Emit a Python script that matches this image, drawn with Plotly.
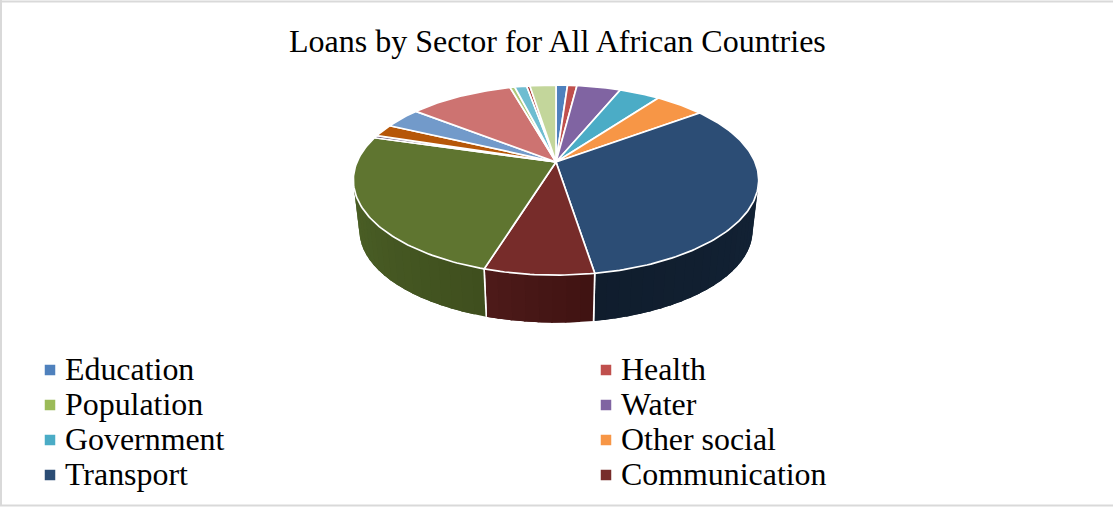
import math
import plotly.graph_objects as go

TITLE = "Loans by Sector for All African Countries"

# Share of total lending per sector, in percent, in drawing order clockwise from 12 o'clock.
sectors = ["Education", "Health", "Population", "Water", "Government", "Other social",
           "Transport", "Communication", "Sector 9", "Sector 10", "Sector 11", "Sector 12",
           "Sector 13", "Sector 14", "Sector 15", "Sector 16", "Sector 17"]
shares = [1.1, 0.9, 0.0, 4.2, 3.9, 4.75, 32.6, 7.3, 24.7, 0.45, 2.1, 3.55, 10.0, 0.45, 1.15, 0.3, 2.5]
colors = ["#4F81BD", "#C0504D", "#9BBB59", "#8064A2", "#4BACC6", "#F79646",
          "#2C4D75", "#772C2A", "#5F7530", "#4D3B62", "#B65708", "#729ACA",
          "#CD7371", "#AFC97A", "#6FBDD1", "#A5302C", "#C3D69B"]

# Sectors named in the key, read row by row across two columns.
legend_sectors = sectors[:8]

# Side-wall shading per sector: (colour at the clockwise start, colour at the clockwise end).
wall_colors = {
    "Transport": ("#14263B", "#101D2D"),
    "Communication": ("#3F1311", "#4E1A1A"),
    "Sector 9": ("#3F4F1E", "#51682A"),
}

# Disc geometry on a pixel-scaled plotting plane, with perspective tilt.
CX, CY = 556.0, 162.0
RX, RY = 199.0, 91.6
TILT = 0.19
DROP = 51.0
BASE_SCALE = 0.97


def project(theta_deg, scale=1.0, drop=0.0):
    t = math.radians(theta_deg)
    persp = 1.0 + TILT * math.cos(t)
    return (CX + scale * RX * math.sin(t) / persp,
            CY + drop - scale * RY * math.cos(t) / persp)


def arc_angles(a, b, step=1.0):
    n = max(2, int(abs(b - a) / step) + 1)
    return [a + (b - a) * i / (n - 1) for i in range(n)]


def mix(c1, c2, f):
    p = [int(c1[i:i + 2], 16) for i in (1, 3, 5)]
    q = [int(c2[i:i + 2], 16) for i in (1, 3, 5)]
    return "rgb(%d,%d,%d)" % tuple(round(x + (y - x) * f) for x, y in zip(p, q))


total = sum(shares)
edges = [0.0]
for s in shares:
    edges.append(edges[-1] + 360.0 * s / total)

# The wall is only seen between the two silhouette angles of the tilted disc.
wall_from = math.degrees(math.acos(-TILT))
wall_to = 360.0 - wall_from

fig = go.Figure()

# Side walls: each band runs on under the next one, which hides the joins
# while the shading still varies along the arc.
for name, a, b in zip(sectors, edges[:-1], edges[1:]):
    if name not in wall_colors:
        continue
    lo, hi = max(a, wall_from), min(b, wall_to)
    if hi <= lo:
        continue
    start, end = wall_colors[name]
    steps = arc_angles(lo, hi, 3.0)
    for p in steps[:-1]:
        band = arc_angles(p, min(p + 7.0, hi), 1.0)
        upper = [project(t) for t in band]
        lower = [project(t, BASE_SCALE, DROP) for t in reversed(band)]
        pts = upper + lower + upper[:1]
        shade = mix(start, end, (p + 1.5 - a) / (b - a))
        fig.add_trace(go.Scatter(
            x=[pt[0] for pt in pts], y=[pt[1] for pt in pts], mode="lines",
            fill="toself", fillcolor=shade, line=dict(width=0),
            hoverinfo="skip", showlegend=False))
    # White seam down the front edge of each wall.
    for t in (a, b):
        if wall_from < t < wall_to:
            seam = [project(t), project(t, BASE_SCALE, DROP)]
            fig.add_trace(go.Scatter(
                x=[pt[0] for pt in seam], y=[pt[1] for pt in seam], mode="lines",
                line=dict(color="white", width=1.6), hoverinfo="skip", showlegend=False))

# Top face of the disc: one wedge per sector.
for name, share, color, a, b in zip(sectors, shares, colors, edges[:-1], edges[1:]):
    if share <= 0:
        continue
    rim = [project(t) for t in arc_angles(a, b)]
    pts = [(CX, CY)] + rim + [(CX, CY)]
    fig.add_trace(go.Scatter(
        x=[pt[0] for pt in pts], y=[pt[1] for pt in pts], mode="lines",
        fill="toself", fillcolor=color, line=dict(color="white", width=1.7),
        name=name, text=f"{name}: {share}%", hoverinfo="text", hoveron="fills",
        showlegend=False))

# Two-column key: swatches as markers, labels as annotations.
annotations = []
for i, name in enumerate(legend_sectors):
    col, row = i % 2, i // 2
    x0 = 50 if col == 0 else 606
    y0 = 370 + 35 * row
    fig.add_trace(go.Scatter(
        x=[x0], y=[y0], mode="markers",
        marker=dict(symbol="square", size=10.5, color=colors[sectors.index(name)], line=dict(width=0)),
        name=name, hoverinfo="name", showlegend=False))
    annotations.append(dict(
        x=x0 + 13, y=y0 - 1, xref="x", yref="y", text=name, showarrow=False,
        xanchor="left", yanchor="middle",
        font=dict(family="Liberation Serif", size=31.9, color="#000000")))

annotations.append(dict(
    x=557.5, y=41, xref="x", yref="y", text=TITLE, showarrow=False,
    xanchor="center", yanchor="middle",
    font=dict(family="Liberation Serif", size=32, color="#000000")))

fig.update_layout(
    width=1113, height=508, autosize=False,
    margin=dict(l=0, r=0, t=0, b=0),
    paper_bgcolor="white", plot_bgcolor="white",
    showlegend=False,
    xaxis=dict(range=[0, 1113], visible=False, fixedrange=True),
    yaxis=dict(range=[508, 0], visible=False, fixedrange=True),
    annotations=annotations,
    shapes=[
        dict(type="line", xref="x", yref="y", x0=0, x1=1113, y0=1.5, y1=1.5,
             line=dict(color="#D9D9D9", width=2), layer="below"),
        dict(type="line", xref="x", yref="y", x0=1, x1=1, y0=0, y1=506,
             line=dict(color="#D9D9D9", width=2), layer="below"),
        dict(type="line", xref="x", yref="y", x0=0, x1=1113, y0=505.5, y1=505.5,
             line=dict(color="#D9D9D9", width=2), layer="below"),
    ],
)

fig.write_html("out.html", config={"displayModeBar": False})
